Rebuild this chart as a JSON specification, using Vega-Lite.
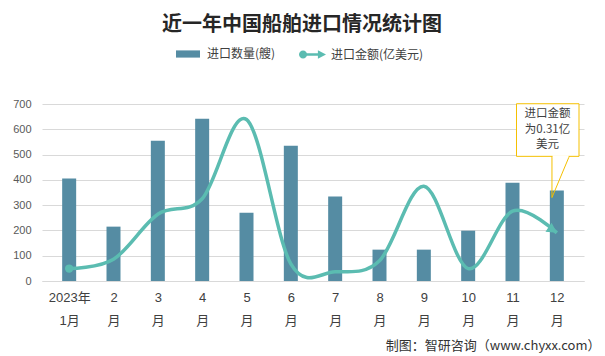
{
  "$schema": "https://vega.github.io/schema/vega-lite/v6.json",
  "width": 542,
  "height": 177,
  "autosize": "none",
  "padding": {"left": 42, "top": 104, "right": 21, "bottom": 75},
  "background": "white",
  "config": {"font": "Liberation Sans, Noto Sans CJK SC", "view": {"stroke": null}},
  "title": {"text": "近一年中国船舶进口情况统计图", "font": "Noto Sans CJK SC", "fontSize": 20, "fontWeight": "bold", "color": "#262626", "anchor": "middle", "dx": -11, "offset": 6},
  "datasets": {
    "main": [
      {"m": 1, "ships": 405, "amount": 0.08},
      {"m": 2, "ships": 215, "amount": 0.14},
      {"m": 3, "ships": 555, "amount": 0.43},
      {"m": 4, "ships": 642, "amount": 0.53},
      {"m": 5, "ships": 270, "amount": 1.04},
      {"m": 6, "ships": 535, "amount": 0.11},
      {"m": 7, "ships": 334, "amount": 0.06},
      {"m": 8, "ships": 124, "amount": 0.13},
      {"m": 9, "ships": 124, "amount": 0.61},
      {"m": 10, "ships": 199, "amount": 0.08},
      {"m": 11, "ships": 389, "amount": 0.45},
      {"m": 12, "ships": 358, "amount": 0.31}
    ],
    "note": [{"m": 12, "note": "进口金额\n为0.31亿\n美元"}]
  },
  "data": {"name": "main"},
  "layer": [
    {
      "mark": {"type": "bar", "size": 14},
      "encoding": {
        "x": {"field": "m", "type": "quantitative", "scale": {"domain": [0.5, 12.5], "nice": false, "zero": false},
          "axis": {"values": [1,2,3,4,5,6,7,8,9,10,11,12], "grid": false, "ticks": false, "domain": true, "domainColor": "#d9d9d9",
            "labelExpr": "datum.value == 1 ? ['2023年', '1月'] : [datum.label, '月']",
            "labelFontSize": 13, "labelColor": "#404040", "labelPadding": 10, "labelLineHeight": 23, "labelBaseline": "top", "labelFlush": false, "labelOverlap": false,
            "title": "制图：智研咨询（www.chyxx.com）", "titleFont": "Noto Sans CJK SC", "titleFontSize": 13, "titleFontWeight": "normal", "titleColor": "#333333",
            "titleAnchor": "end", "titleAlign": "right", "titleBaseline": "alphabetic", "titleX": 558, "titleY": 68}},
        "y": {"field": "ships", "type": "quantitative", "scale": {"domain": [0, 700], "nice": false},
          "axis": {"title": null, "domain": false, "ticks": false, "labelFontSize": 11, "labelColor": "#595959", "labelPadding": 11, "gridColor": "#d9d9d9", "tickCount": 7}},
        "fill": {"datum": "进口数量(艘)", "scale": {"range": ["#558ca3"]},
          "legend": {"orient": "none", "legendX": 133, "legendY": -63, "title": null, "padding": 0,
            "symbolType": "M-1,-0.3H1V0.3H-1Z", "symbolSize": 576, "labelFontSize": 12, "labelColor": "#404040", "labelOffset": 6,
            "labelFont": "Noto Sans CJK SC"}}
      }
    },
    {
      "mark": {"type": "line", "interpolate": "cardinal", "strokeWidth": 3.5},
      "encoding": {
        "x": {"field": "m", "type": "quantitative"},
        "y": {"field": "amount", "type": "quantitative", "scale": {"domain": [0, 1.14], "nice": false}, "axis": null},
        "stroke": {"datum": "进口金额(亿美元)", "scale": {"range": ["#5bbcb1"]},
          "legend": {"orient": "none", "legendX": 257, "legendY": -63, "title": null, "padding": 0,
            "symbolType": "M-1,0A0.3,0.3 0 1,1 -0.4,0A0.3,0.3 0 1,1 -1,0ZM-0.5,-0.1H0.55V0.1H-0.5ZM0.4,-0.32L1,0L0.4,0.32Z",
            "symbolSize": 729, "symbolFillColor": "#5bbcb1", "symbolStrokeWidth": 0, "labelFontSize": 12, "labelColor": "#404040", "labelOffset": 5,
            "labelFont": "Noto Sans CJK SC",
            "encode": {"symbols": {"update": {"fill": {"value": "#5bbcb1"}, "strokeWidth": {"value": 0}}}}}}
      }
    },
    {
      "transform": [{"filter": "datum.m == 1"}],
      "mark": {"type": "point", "shape": "circle", "filled": true, "size": 70, "color": "#5bbcb1", "opacity": 1},
      "encoding": {
        "x": {"field": "m", "type": "quantitative"},
        "y": {"field": "amount", "type": "quantitative", "scale": {"domain": [0, 1.14], "nice": false}, "axis": null}
      }
    },
    {
      "transform": [{"filter": "datum.m == 12"}],
      "mark": {"type": "point", "shape": "M0,0L-1,-0.55L-1,0.55Z", "filled": true, "size": 400, "angle": 34, "color": "#5bbcb1", "opacity": 1},
      "encoding": {
        "x": {"field": "m", "type": "quantitative"},
        "y": {"field": "amount", "type": "quantitative", "scale": {"domain": [0, 1.14], "nice": false}, "axis": null}
      }
    },
    {
      "data": {"name": "note"},
      "mark": {"type": "rect", "fill": "white", "stroke": "#f5c000", "strokeWidth": 1},
      "encoding": {
        "x": {"datum": 11.09, "type": "quantitative"},
        "x2": {"datum": 12.5},
        "y": {"datum": 701, "type": "quantitative", "scale": {"domain": [0, 700], "nice": false}, "axis": null},
        "y2": {"datum": 493}
      }
    },
    {
      "data": {"name": "note"},
      "mark": {"type": "rule", "stroke": "#f5c000", "strokeWidth": 1},
      "encoding": {
        "x": {"datum": 11.89, "type": "quantitative"},
        "x2": {"datum": 11.89},
        "y": {"datum": 493, "type": "quantitative", "scale": {"domain": [0, 700], "nice": false}, "axis": null},
        "y2": {"datum": 330}
      }
    },
    {
      "data": {"name": "note"},
      "mark": {"type": "rule", "stroke": "#f5c000", "strokeWidth": 1},
      "encoding": {
        "x": {"datum": 12.28, "type": "quantitative"},
        "x2": {"datum": 11.89},
        "y": {"datum": 493, "type": "quantitative", "scale": {"domain": [0, 700], "nice": false}, "axis": null},
        "y2": {"datum": 330}
      }
    },
    {
      "data": {"name": "note"},
      "mark": {"type": "rule", "stroke": "white", "strokeWidth": 2},
      "encoding": {
        "x": {"datum": 11.905, "type": "quantitative"},
        "x2": {"datum": 12.265},
        "y": {"datum": 493, "type": "quantitative", "scale": {"domain": [0, 700], "nice": false}, "axis": null}
      }
    },
    {
      "data": {"name": "note"},
      "mark": {"type": "text", "lineBreak": "\n", "fontSize": 11.5, "lineHeight": 15.5, "color": "#404040", "font": "Noto Sans CJK SC", "baseline": "middle", "align": "center"},
      "encoding": {
        "x": {"datum": 11.79, "type": "quantitative"},
        "y": {"datum": 660, "type": "quantitative", "scale": {"domain": [0, 700], "nice": false}, "axis": null},
        "text": {"field": "note"}
      }
    }
  ],
  "resolve": {"scale": {"y": "independent"}}
}
